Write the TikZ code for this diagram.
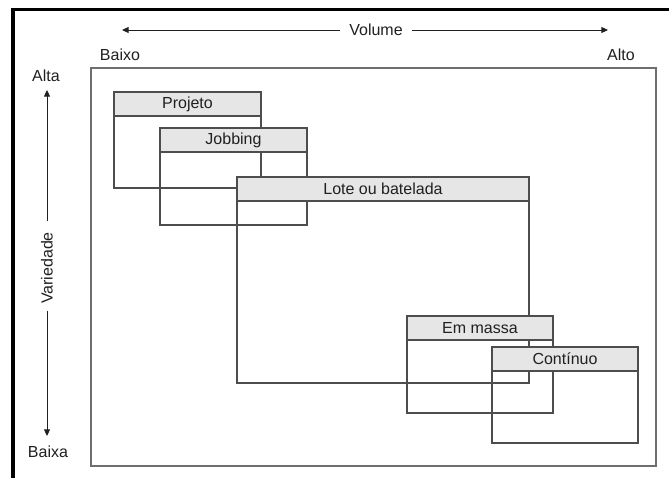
\documentclass[tikz,border=0pt]{standalone}
\usepackage{fontspec}
\setmainfont{Liberation Sans}
\usetikzlibrary{arrows.meta}
\definecolor{boxgray}{HTML}{4D4D4D}
\definecolor{framegray}{HTML}{6E6E6E}
\definecolor{hdrfill}{HTML}{E6E6E6}
\definecolor{txt}{HTML}{202020}
\begin{document}
\begin{tikzpicture}[x=0.75pt,y=-0.75pt,
  every node/.style={font=\fontsize{12}{14}\selectfont, text=txt},
  boxline/.style={draw=boxgray, line width=1.1pt},
  hdr/.style={boxline, fill=hdrfill, inner sep=0pt, minimum height=24*0.75pt},
  axis/.style={draw=txt, line width=0.7pt},
  tip/.style={-{Triangle[length=5pt,width=4.5pt]}},
  lbl/.style={inner sep=1pt}]
\useasboundingbox (0,0) rectangle (669,478);
\fill[white] (0,0) rectangle (669,478);

% heavy outer border (continues past the page edges)
\draw[black, line width=2.4pt] (13,478) -- (13,9.5) -- (669,9.5);

% inner frame
\draw[draw=framegray, line width=1.5pt] (91,68) rectangle (656,466);

% volume axis
\node[lbl] (vol) at (376,30) {Volume};
\coordinate (volL) at (122,30);
\coordinate (volR) at (608,30);
\draw[axis,tip] ([xshift=-6pt]vol.west) -- (volL);
\draw[axis,tip] ([xshift=6pt]vol.east) -- (volR);
\node[lbl] (baixo) at (120,55) {Baixo};
\node[lbl] (alto) at (621,55) {Alto};

% variety axis
\node[lbl, rotate=90] (var) at (47,268) {Variedade};
\coordinate (varT) at (47,90);
\coordinate (varB) at (47,436);
\draw[axis,tip] ([yshift=7pt]var.east) -- (varT);
\draw[axis,tip] ([yshift=-4pt]var.west) -- (varB);
\node[lbl] (alta) at (46,76) {Alta};
\node[lbl] (baixa) at (48,452) {Baixa};

% process types: open body with a shaded title bar
\draw[boxline] (114,116) rectangle (261,188);
\node[hdr, minimum width=147*0.75pt] (projeto) at (187.5,104) {Projeto};

\draw[boxline] (160,152) rectangle (307,225);
\node[hdr, minimum width=147*0.75pt] (jobbing) at (233.5,140) {Jobbing};

\draw[boxline] (237,201) rectangle (529,383);
\node[hdr, minimum width=292*0.75pt] (lote) at (383,189) {Lote ou batelada};

\draw[boxline] (407,340) rectangle (553,413);
\node[hdr, minimum width=146*0.75pt] (massa) at (480,328) {Em massa};

\draw[boxline] (492,371) rectangle (638,443);
\node[hdr, minimum width=146*0.75pt] (continuo) at (565,359) {Contínuo};
\end{tikzpicture}
\end{document}
